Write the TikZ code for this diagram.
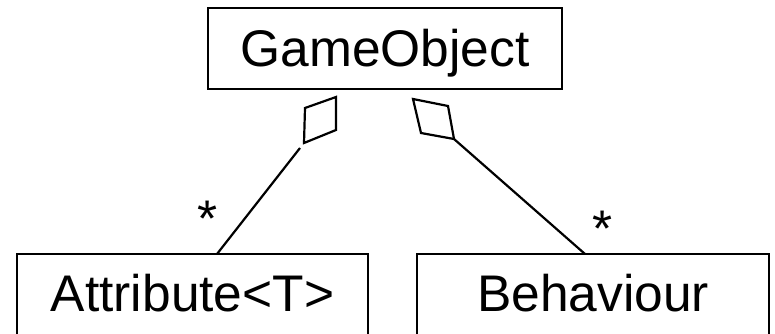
\documentclass[tikz,border=0pt]{standalone}
\usepackage{fontspec}
\setmainfont{Liberation Sans}
\newcommand{\umltext}[1]{\fontsize{51.5}{56}\selectfont #1}
\tikzset{
  classbox/.style={draw, line width=2.2pt, inner sep=0pt, anchor=center},
  assoc/.style={line width=2.2pt},
  aggdiamond/.style={draw, line width=2.2pt, line join=miter, fill=white},
  mult/.style={inner sep=0pt, anchor=base}
}
\begin{document}
\begin{tikzpicture}[x=1pt, y=-1pt]
  \useasboundingbox (0,0) rectangle (775,334);
  \clip (0,0) rectangle (775,334);
  \fill[white] (0,0) rectangle (775,334);

  % classes
  \node[classbox, minimum width=354pt, text height=59pt, text depth=22pt]
    (game) at (385,48.5) {\umltext{GameObject}};
  \node[classbox, minimum width=351pt, text height=57pt, text depth=43pt]
    (attr) at (192.5,304) {\umltext{Attribute<T>}};
  \node[classbox, minimum width=352pt, text height=57pt, text depth=43pt]
    (beh) at (593,304) {\umltext{Behaviour}};

  % association ends
  \coordinate (attrtop) at (217,254);
  \coordinate (behtop) at (585,254);
  \coordinate (attrtail) at (300,148);
  \coordinate (behtail) at (454,139);

  \draw[assoc] (attrtail) -- (attrtop);
  \draw[assoc] (behtail) -- (behtop);

  % aggregation diamonds under GameObject
  \draw[aggdiamond] (336,97) -- (305,108) -- (304,143) -- (336,130) -- cycle;
  \draw[aggdiamond] (413,99) -- (448,106) -- (454,139) -- (421,133) -- cycle;

  % multiplicities
  \node[mult] (mattr) at (208,236.5) {\umltext{*}};
  \node[mult] (mbeh) at (603,246.5) {\umltext{*}};
\end{tikzpicture}
\end{document}
